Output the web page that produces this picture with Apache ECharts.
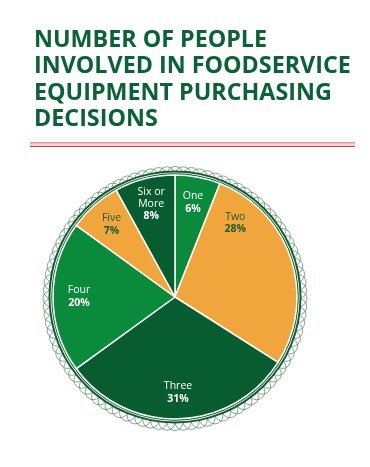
<!DOCTYPE html>
<html><head><meta charset="utf-8">
<script src="https://cdn.jsdelivr.net/npm/echarts@6/dist/echarts.min.js"></script>
<style>html,body{margin:0;padding:0;background:#fff}#c{width:370px;height:467px}</style>
</head><body><div id="c"></div>
<script>
const titleLines = ['NUMBER OF PEOPLE', 'INVOLVED IN FOODSERVICE', 'EQUIPMENT PURCHASING', 'DECISIONS'];
const categories = ['One', 'Two', 'Three', 'Four', 'Five', 'Six or\nMore'];
const values = [6, 28, 31, 20, 7, 8];
const sliceColors = ['#0a8a3b', '#f0a63c', '#075d2f', '#0a8a3b', '#f0a63c', '#075d2f'];
const labelColors = ['#ffffff', '#1e5a2a', '#ffffff', '#ffffff', '#1e5a2a', '#ffffff'];

const cx = 175, cy = 297, R = 122;
const chart = echarts.init(document.getElementById('c'), null, {renderer: 'canvas'});

const lace = [];
const N = 96;
for (let i = 0; i < N; i++) {
  const a = i / N * Math.PI * 2;
  lace.push({
    type: 'circle', silent: true, z: 0,
    shape: {cx: cx + Math.cos(a) * (R + 2), cy: cy + 1.5 + Math.sin(a) * (R + 2), r: 8},
    style: {fill: 'none', stroke: '#2b6242', lineWidth: 0.7, opacity: 0.8}
  });
}

const data = categories.map((c, i) => ({
  name: c, value: values[i],
  itemStyle: {color: sliceColors[i]},
  label: Object.assign({color: labelColors[i]}, i === 1 ? {offset: [-31, -44]} : {})
}));

chart.setOption({
  animation: false,
  title: {
    text: titleLines.join('\n'), left: 29, top: 22,
    textStyle: {fontFamily: 'Open Sans', fontWeight: 700, fontSize: 23.3, color: '#0b6236', lineHeight: 26.5}
  },
  graphic: lace.concat([
    {type: 'circle', silent: true, z: 1, shape: {cx: cx, cy: cy, r: R + 3}, style: {fill: '#ffffff'}},
    {type: 'line', silent: true, shape: {x1: 30, y1: 143, x2: 355, y2: 143}, style: {stroke: '#d43c46', lineWidth: 1.2}},
    {type: 'line', silent: true, shape: {x1: 30, y1: 146.5, x2: 355, y2: 146.5}, style: {stroke: '#d43c46', lineWidth: 1.2}},
    {type: 'rect', silent: true, shape: {x: 30, y: 143.6, width: 325, height: 2.3}, style: {fill: '#f6d3d5'}}
  ]),
  series: [
    {
      type: 'pie', silent: true, center: [cx, cy], radius: [R, R + 4.5], startAngle: 90,
      label: {show: false}, labelLine: {show: false},
      data: [{value: 1, itemStyle: {color: '#0d5c2e'}}], z: 1
    },
    {
      type: 'pie', silent: true, center: [cx, cy], radius: [R + 1.7, R + 2.6], startAngle: 90,
      label: {show: false}, labelLine: {show: false},
      data: [{value: 1, itemStyle: {color: '#eef3ee'}}], z: 2
    },
    {
      type: 'pie', silent: true, center: [cx, cy], radius: [0, R], startAngle: 90, clockwise: true,
      itemStyle: {borderColor: '#ffffff', borderWidth: 1.5},
      labelLine: {show: false}, z: 3,
      label: {show: false},
      data: data.map(d => Object.assign({}, d, {label: {show: false}}))
    },
    {
      type: 'pie', silent: true, center: [cx, cy], radius: [0, 186], startAngle: 90, clockwise: true,
      itemStyle: {color: 'rgba(0,0,0,0)'}, z: 4,
      labelLine: {show: false},
      label: {
        show: true, position: 'inside',
        fontFamily: 'Open Sans', fontSize: 10.5, lineHeight: 12,
        formatter: p => p.name + '\n{p|' + p.value + '%}',
        rich: {p: {fontWeight: 700, fontSize: 10.5, lineHeight: 13}}
      },
      data: data.map(d => Object.assign({}, d, {itemStyle: {color: 'rgba(0,0,0,0)'}}))
    }
  ]
});
</script></body></html>
